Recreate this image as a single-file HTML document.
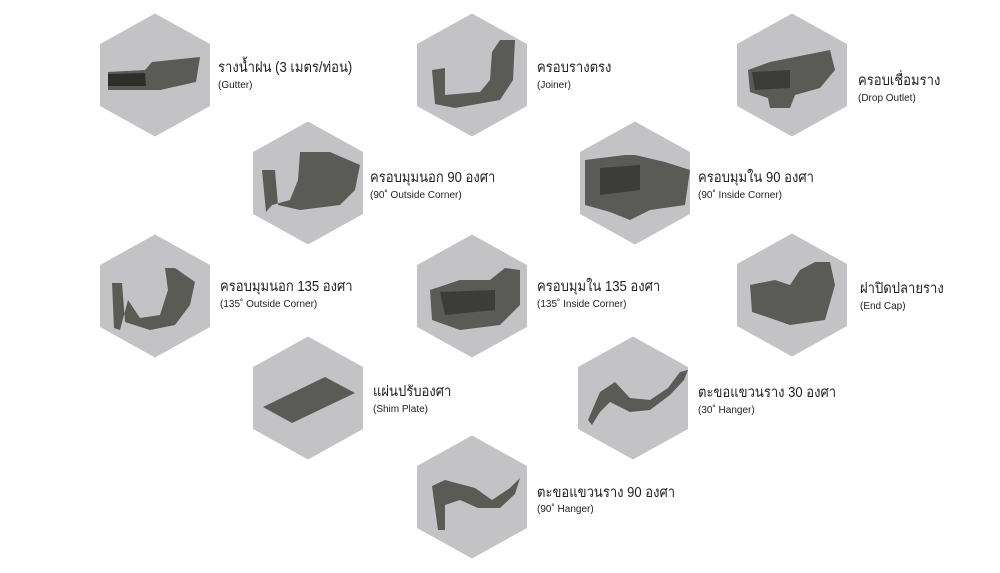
<!DOCTYPE html>
<html><head><meta charset="utf-8"><style>
html,body{margin:0;padding:0;background:#fff;}
#c{position:relative;width:1000px;height:573px;overflow:hidden;font-family:"Liberation Sans","Noto Sans CJK SC",sans-serif;color:#1e1e1e;}
.t{position:absolute;white-space:nowrap;}
.th{font-size:14.5px;line-height:18px;transform:scaleX(0.9);transform-origin:0 0;}
.en{font-size:10px;line-height:12px;}
</style></head><body><div id="c">
<svg width="1000" height="573" style="position:absolute;left:0;top:0">
<defs>
<polygon id="hx" points="0,-61.5 55,-31 55,31 0,61.5 -55,31 -55,-31" fill="#c3c3c6"/>
</defs>
<use href="#hx" x="155" y="75"/>
<use href="#hx" x="472" y="75"/>
<use href="#hx" x="792" y="75"/>
<use href="#hx" x="308" y="183"/>
<use href="#hx" x="635" y="183"/>
<use href="#hx" x="155" y="296"/>
<use href="#hx" x="472" y="296"/>
<use href="#hx" x="792" y="295"/>
<use href="#hx" x="308" y="398"/>
<use href="#hx" x="633" y="398"/>
<use href="#hx" x="472" y="497"/>
<g fill="#5a5a57">
<polygon points="108,72 145,70 152,62 200,57 196,82 160,90 132,90 108,90"/>
<polygon points="108,74 145,73 146,86 108,86" fill="#2e2e2c"/>
<polygon points="432,70 445,68 445,95 480,92 490,80 492,52 500,40 515,40 513,80 500,100 455,108 435,104" />
<polygon points="748,70 770,62 830,50 835,70 820,88 795,95 790,108 770,108 768,98 750,92"/>
<polygon points="752,72 790,70 790,88 755,90" fill="#3b3b39"/>
<polygon points="262,170 275,170 278,205 300,210 340,205 355,190 360,165 330,152 300,152 298,180 290,200 272,205 266,212"/>
<polygon points="585,160 625,155 635,155 665,162 690,170 685,205 650,210 630,220 610,212 585,205"/>
<polygon points="600,168 640,165 640,190 600,195" fill="#3c3c3a"/>
<polygon points="112,283 122,283 125,322 150,330 175,325 190,305 195,282 175,268 165,268 168,290 160,315 140,318 128,300 120,330 114,328"/>
<polygon points="430,290 460,280 490,280 505,268 520,270 520,305 500,325 460,330 432,320"/>
<polygon points="440,292 495,290 495,310 445,315" fill="#3c3c3a"/>
<polygon points="750,285 775,280 790,285 800,270 815,262 830,262 835,285 825,320 790,325 770,318 752,312"/>
<polygon points="263,407 325,377 355,393 292,423"/>
<polygon points="588,420 600,392 615,382 630,398 650,400 668,388 680,372 688,370 684,380 670,395 650,410 630,412 610,402 600,412 592,425"/>
<polygon points="432,486 445,480 475,488 492,500 510,488 520,478 515,494 500,508 478,508 460,500 445,505 445,530 438,530"/>
</g>
</svg>
<div class="t th" style="left:218px;top:59px">รางน้ำฝน (3 เมตร/ท่อน)</div>
<div class="t en" style="left:218px;top:80px">(Gutter)</div>
<div class="t th" style="left:537px;top:59px">ครอบรางตรง</div>
<div class="t en" style="left:537px;top:80px">(Joiner)</div>
<div class="t th" style="left:858px;top:72px">ครอบเชื่อมราง</div>
<div class="t en" style="left:858px;top:93px">(Drop Outlet)</div>
<div class="t th" style="left:370px;top:169px">ครอบมุมนอก 90 องศา</div>
<div class="t en" style="left:370px;top:190px">(90˚ Outside Corner)</div>
<div class="t th" style="left:698px;top:169px">ครอบมุมใน 90 องศา</div>
<div class="t en" style="left:698px;top:190px">(90˚ Inside Corner)</div>
<div class="t th" style="left:220px;top:278px">ครอบมุมนอก 135 องศา</div>
<div class="t en" style="left:220px;top:299px">(135˚ Outside Corner)</div>
<div class="t th" style="left:537px;top:278px">ครอบมุมใน 135 องศา</div>
<div class="t en" style="left:537px;top:299px">(135˚ Inside Corner)</div>
<div class="t th" style="left:860px;top:280px">ฝาปิดปลายราง</div>
<div class="t en" style="left:860px;top:301px">(End Cap)</div>
<div class="t th" style="left:373px;top:383px">แผ่นปรับองศา</div>
<div class="t en" style="left:373px;top:404px">(Shim Plate)</div>
<div class="t th" style="left:698px;top:384px">ตะขอแขวนราง 30 องศา</div>
<div class="t en" style="left:698px;top:405px">(30˚ Hanger)</div>
<div class="t th" style="left:537px;top:484px">ตะขอแขวนราง 90 องศา</div>
<div class="t en" style="left:537px;top:504px">(90˚ Hanger)</div>
</div></body></html>
